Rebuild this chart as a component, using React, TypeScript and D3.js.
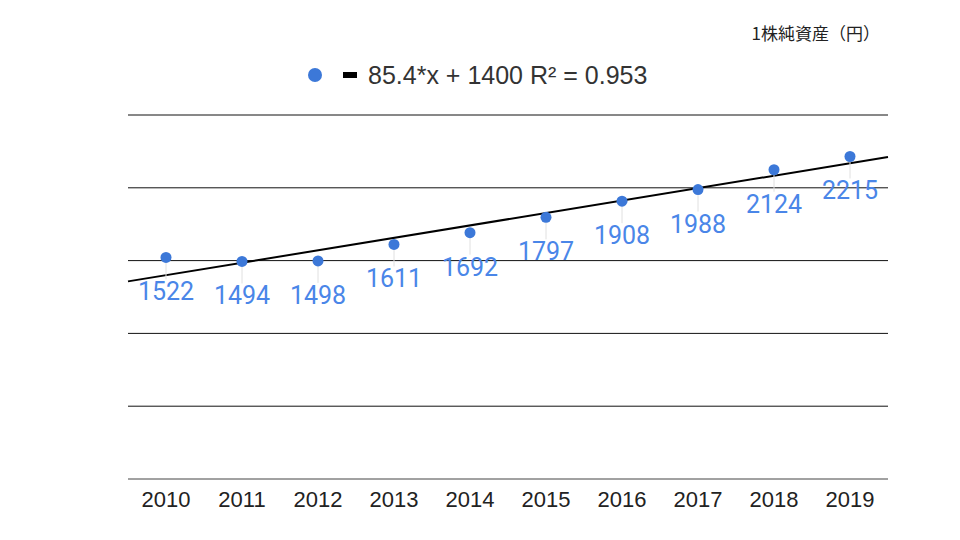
import { useRef, useEffect } from 'react'
import * as d3 from 'd3'

const years = ['2010', '2011', '2012', '2013', '2014', '2015', '2016', '2017', '2018', '2019']
const bookValue = [1522, 1494, 1498, 1611, 1692, 1797, 1908, 1988, 2124, 2215]
const yTicks = [0, 500, 1000, 1500, 2000, 2500]
const trendSlope = 85.4
const trendIntercept = 1400
const legendLabel = '85.4*x + 1400 R² = 0.953'
const unitLabel = '1株純資産（円）'

export default function App() {
  const svgRef = useRef<SVGSVGElement>(null)

  useEffect(() => {
    if (!svgRef.current) return
    const svg = d3.select(svgRef.current)
    svg.selectAll('*').remove()

    const width = 960
    const height = 540
    const margin = { top: 115, right: 72, bottom: 61, left: 128 }
    const innerWidth = width - margin.left - margin.right
    const innerHeight = height - margin.top - margin.bottom

    const g = svg.append('g').attr('transform', `translate(${margin.left},${margin.top})`)

    const xScale = d3.scaleBand().domain(years).range([0, innerWidth])
    const yScale = d3.scaleLinear().domain([0, 2500]).range([innerHeight, 0])
    const cx = (y: string) => (xScale(y) ?? 0) + xScale.bandwidth() / 2

    // gridlines
    for (const t of yTicks) {
      g.append('line')
        .attr('x1', 0).attr('x2', innerWidth)
        .attr('y1', yScale(t)).attr('y2', yScale(t))
        .attr('stroke', t === 0 ? '#444' : '#111')
        .attr('stroke-width', 1)
    }

    // x axis labels
    g.append('g')
      .attr('transform', `translate(0,${innerHeight})`)
      .call(d3.axisBottom(xScale).tickSize(0).tickPadding(12))
      .call((a) => a.select('.domain').remove())
      .call((a) => a.selectAll('text')
        .attr('fill', '#222')
        .attr('font-size', '22px')
        .attr('font-family', 'Liberation Sans, Arial, sans-serif'))

    // trendline across the full plot width (x index 0 at first category center)
    const step = xScale.step()
    const idxAt = (px: number) => (px - cx(years[0])) / step
    const trend = (i: number) => trendSlope * i + trendIntercept
    g.append('line')
      .attr('x1', 0).attr('y1', yScale(trend(idxAt(0))))
      .attr('x2', innerWidth).attr('y2', yScale(trend(idxAt(innerWidth))))
      .attr('stroke', '#000')
      .attr('stroke-width', 2)

    // leader lines
    g.selectAll('.leader')
      .data(bookValue)
      .join('line')
      .attr('x1', (_, i) => cx(years[i])).attr('x2', (_, i) => cx(years[i]))
      .attr('y1', (d) => yScale(d) + 5).attr('y2', (d) => yScale(d) + 22)
      .attr('stroke', '#e0e0e0')
      .attr('stroke-width', 1)

    // points
    g.selectAll('.pt')
      .data(bookValue)
      .join('circle')
      .attr('cx', (_, i) => cx(years[i]))
      .attr('cy', (d) => yScale(d))
      .attr('r', 5.5)
      .attr('fill', '#3c78d8')

    // data labels
    g.selectAll('.lbl')
      .data(bookValue)
      .join('text')
      .attr('x', (_, i) => cx(years[i]))
      .attr('y', (d) => yScale(d) + 43)
      .attr('text-anchor', 'middle')
      .attr('fill', '#4a86e8')
      .attr('font-size', '25px')
      .attr('font-family', 'Roboto, sans-serif')
      .text((d) => d)

    // legend
    const lg = svg.append('g').attr('transform', 'translate(315,75)')
    lg.append('circle').attr('cx', 0).attr('cy', 0).attr('r', 7).attr('fill', '#3c78d8')
    lg.append('rect').attr('x', 28).attr('y', -3).attr('width', 14).attr('height', 6).attr('fill', '#000')
    lg.append('text')
      .attr('x', 53).attr('y', 9)
      .attr('fill', '#333')
      .attr('font-size', '25px')
      .attr('font-family', 'Liberation Sans, Arial, sans-serif')
      .text(legendLabel)

    // unit label
    svg.append('text')
      .attr('x', 880).attr('y', 40)
      .attr('text-anchor', 'end')
      .attr('fill', '#222')
      .attr('font-size', '17px')
      .attr('font-family', 'Noto Sans CJK JP, sans-serif')
      .text(unitLabel)
  }, [])

  return (
    <div style={{ width: 960, height: 540, margin: -8, background: '#fff' }}>
      <svg ref={svgRef} width={960} height={540} style={{ display: 'block' }} />
    </div>
  )
}
